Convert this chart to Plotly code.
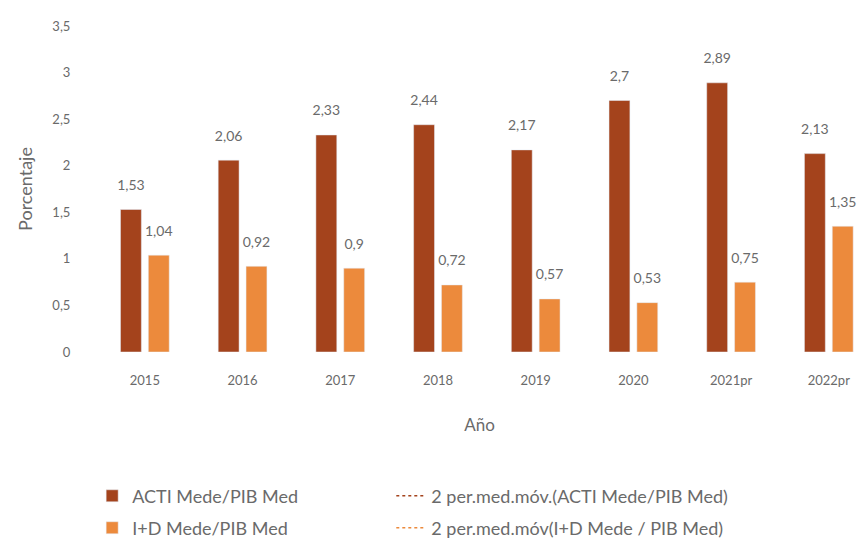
import plotly.graph_objects as go

years = ["2015", "2016", "2017", "2018", "2019", "2020", "2021pr", "2022pr"]
acti = [1.53, 2.06, 2.33, 2.44, 2.17, 2.7, 2.89, 2.13]
imasd = [1.04, 0.92, 0.9, 0.72, 0.57, 0.53, 0.75, 1.35]
y_ticks = [0, 0.5, 1, 1.5, 2, 2.5, 3, 3.5]
y_tick_text = ["0", "0,5", "1", "1,5", "2", "2,5", "3", "3,5"]

name_acti = "ACTI Mede/PIB Med"
name_imasd = "I+D Mede/PIB Med"
name_ma_acti = "2 per.med.móv.(ACTI Mede/PIB Med)"
name_ma_imasd = "2 per.med.móv(I+D Mede / PIB Med)"

c_acti = "#A4431C"
c_imasd = "#EC8A3C"
grey = "#6a6a6a"
font = "Lato"


def fmt(v):
    return str(v).replace(".", ",")


fig = go.Figure()
fig.add_trace(go.Bar(
    x=years, y=acti, name=name_acti, marker_color=c_acti,
    legend="legend", hoverinfo="skip",
))
fig.add_trace(go.Bar(
    x=years, y=imasd, name=name_imasd, marker_color=c_imasd,
    legend="legend3", hoverinfo="skip",
))
# value labels, grouped like the bars and lifted by an invisible marker
for vals in (acti, imasd):
    fig.add_trace(go.Scatter(
        x=years, y=vals, mode="markers+text", showlegend=False,
        text=[fmt(v) for v in vals], textposition="top center",
        textfont=dict(color=grey, size=14, family=font),
        marker=dict(size=24, color="rgba(0,0,0,0)"),
        cliponaxis=False, hoverinfo="skip",
        alignmentgroup="lbl",
    ))
# legend-only entries for the moving-average trendlines (not drawn in the plot)
fig.add_trace(go.Scatter(
    x=[None], y=[None], mode="lines", name=name_ma_acti, xaxis="x2",
    line=dict(color=c_acti, dash="dot", width=1.5), legend="legend2",
))
fig.add_trace(go.Scatter(
    x=[None], y=[None], mode="lines", name=name_ma_imasd, xaxis="x2",
    line=dict(color=c_imasd, dash="dot", width=1.5), legend="legend4",
))

leg_common = dict(
    orientation="h", xanchor="left", yanchor="middle",
    font=dict(size=18, color=grey, family=font),
    itemwidth=30, bgcolor="rgba(0,0,0,0)",
)

fig.update_layout(
    width=863, height=553,
    margin=dict(l=96, r=0, t=26, b=201, autoexpand=False),
    paper_bgcolor="white", plot_bgcolor="white",
    barmode="group", bargap=0.43, bargroupgap=0.25,
    scattermode="group", scattergap=0.43,
    font=dict(family=font, color=grey, size=13),
    showlegend=True,
    legend=dict(x=-0.005, y=-0.442, **leg_common),
    legend2=dict(x=0.385, y=-0.442, **leg_common),
    legend3=dict(x=-0.005, y=-0.54, **leg_common),
    legend4=dict(x=0.385, y=-0.54, **leg_common),
    xaxis=dict(
        type="category", range=[-0.5, 7.35],
        showgrid=False, showline=False,
        ticks="outside", ticklen=16, tickcolor="rgba(0,0,0,0)",
        tickfont=dict(size=13, color=grey, family=font),
        title=dict(text="Año", font=dict(size=17, color=grey, family=font), standoff=32),
        automargin=False,
    ),
    xaxis2=dict(overlaying="x", visible=False, range=[0, 1]),
    yaxis=dict(
        range=[0, 3.5], tickvals=y_ticks, ticktext=y_tick_text,
        showgrid=False, zeroline=False, showline=False,
        ticks="outside", ticklen=22, tickcolor="rgba(0,0,0,0)",
        tickfont=dict(size=13, color=grey, family=font),
        title=dict(text="Porcentaje", font=dict(size=18, color=grey, family=font), standoff=15),
        automargin=False,
    ),
)

fig.write_html(
    "out.html",
    config={"displayModeBar": False},
    post_script="document.body.style.margin='0';document.body.style.overflow='hidden';",
)
